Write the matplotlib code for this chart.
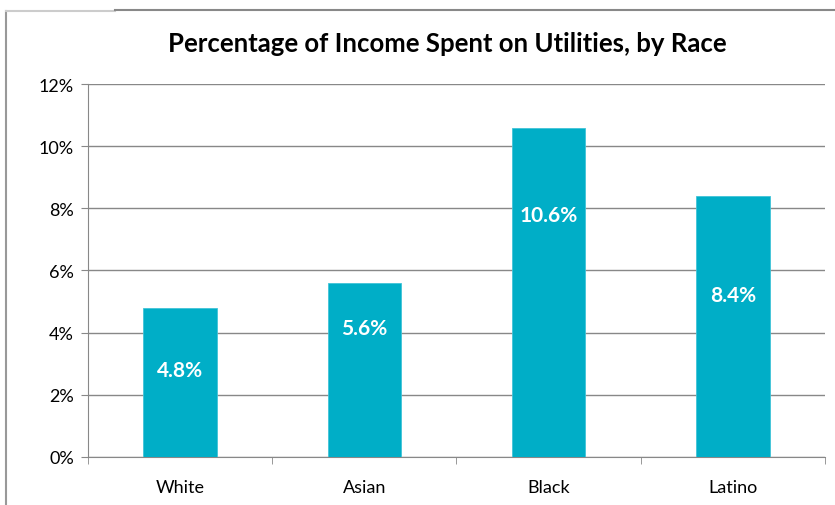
import numpy as np
import matplotlib.pyplot as plt
from matplotlib.lines import Line2D
from matplotlib.ticker import FuncFormatter

# data
races = ['White', 'Asian', 'Black', 'Latino']
pct = [4.8, 5.6, 10.6, 8.4]
label_y = [2.8, 4.15, 7.8, 5.2]   # where excel left the value labels
yticks = [0, 2, 4, 6, 8, 10, 12]

plt.rcParams['font.family'] = ['Lato', 'DejaVu Sans']

fig = plt.figure(figsize=(8.35, 5.06), dpi=100)
ax = fig.add_axes([0.1054, 0.095, 0.8826, 0.737])

x = np.arange(len(races))
ax.bar(x, pct, width=0.4, color='#00AEC7', edgecolor='#40c4d8', linewidth=0.6, zorder=3)

for xi, v, ly in zip(x, pct, label_y):
    ax.text(xi, ly, '%.1f%%' % v, ha='center', va='center', color='white',
            fontsize=15, fontweight='bold', zorder=4)

ax.set_xlim(-0.5, 3.5)
ax.set_ylim(0, 12)
ax.set_yticks(yticks)
ax.yaxis.set_major_formatter(FuncFormatter(lambda v, p: '%d%%' % v))
ax.set_xticks(x)
ax.set_xticklabels(races)
ax.set_xticks(np.arange(-0.5, 4.0, 1.0), minor=True)
ax.tick_params(axis='x', which='major', length=0, pad=16, labelsize=13)
ax.tick_params(axis='x', which='minor', length=5, color='#888888')
ax.tick_params(axis='y', length=5, color='#888888', labelsize=13, pad=5)

ax.grid(axis='y', color='#888888', linewidth=1, zorder=0)
for s in ['top', 'right']:
    ax.spines[s].set_visible(False)
ax.spines['left'].set_color('#888888')
ax.spines['bottom'].set_color('#888888')

ax.set_title('Percentage of Income Spent on Utilities, by Race', fontsize=18.5,
             fontweight='bold', pad=24, x=0.487)

# outer frame left over from the screenshot
fig.add_artist(Line2D([6 / 835, 6 / 835], [0, 1 - 12 / 506], color='#999999', lw=1.5))
fig.add_artist(Line2D([6 / 835, 115 / 835], [1 - 12 / 506, 1 - 12 / 506], color='#cccccc', lw=1.5))
fig.add_artist(Line2D([115 / 835, 1], [1 - 11 / 506, 1 - 11 / 506], color='#888888', lw=1.5))

fig.savefig('out.png', dpi=100)
